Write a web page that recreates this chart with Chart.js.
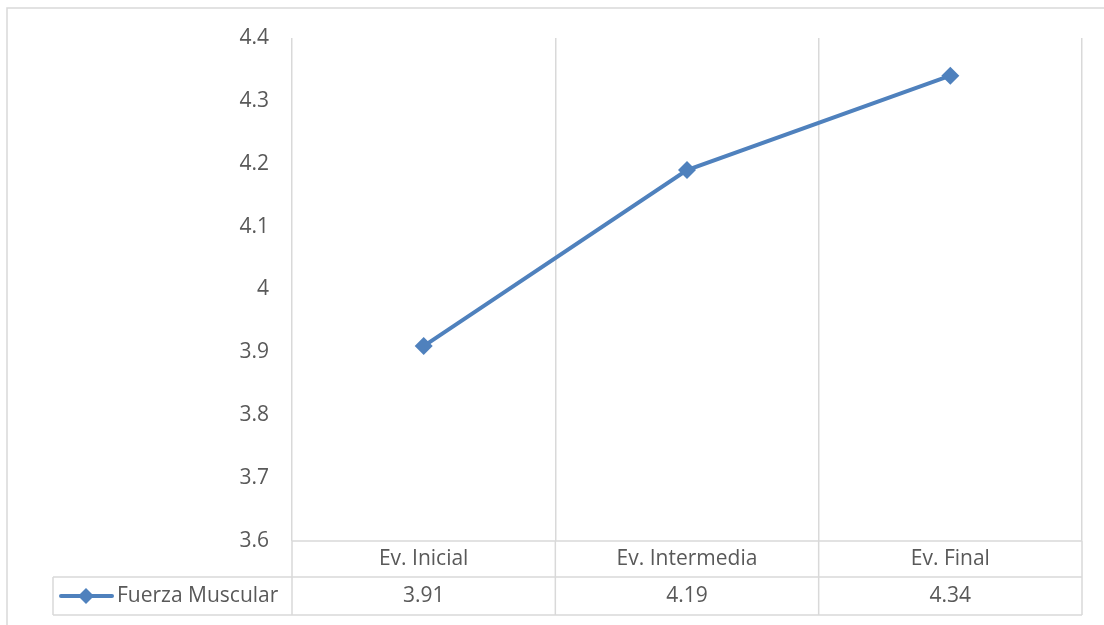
<!DOCTYPE html>
<html>
<head>
<meta charset="utf-8">
<script src="https://cdn.jsdelivr.net/npm/chart.js@4.4.1/dist/chart.umd.min.js"></script>
<style>
  html, body { margin: 0; padding: 0; background: #ffffff; }
  #wrap { width: 1104px; height: 625px; position: relative; }
</style>
</head>
<body>
<div id="wrap"><canvas id="chart" width="1104" height="625"></canvas></div>
<script>
// Evaluation stages and the muscular strength score at each one
const categories = ['Ev. Inicial', 'Ev. Intermedia', 'Ev. Final'];
const seriesName = 'Fuerza Muscular';
const fuerzaMuscular = [3.91, 4.19, 4.34];
const yTicks = [3.6, 3.7, 3.8, 3.9, 4.0, 4.1, 4.2, 4.3, 4.4];

const LINE = '#4f81bd';
const GRID = '#d9d9d9';
const TEXT = '#595959';
const FONT = '"Open Sans", "Liberation Sans", sans-serif';
const FONT_SIZE = 21;

// Geometry of the data table drawn under the plot
const TABLE = { left: 53, headerBottom: 577, bottom: 615 };

const dataTablePlugin = {
  id: 'dataTable',
  beforeDraw(chart) {
    const ctx = chart.ctx;
    ctx.save();
    ctx.fillStyle = '#ffffff';
    ctx.fillRect(0, 0, chart.width, chart.height);
    // chart frame (top and left edges)
    ctx.strokeStyle = GRID;
    ctx.lineWidth = 1.5;
    ctx.beginPath();
    ctx.moveTo(7, chart.height);
    ctx.lineTo(7, 8);
    ctx.lineTo(chart.width, 8);
    ctx.stroke();
    ctx.restore();
  },
  afterDraw(chart) {
    const ctx = chart.ctx;
    const area = chart.chartArea;
    const x = chart.scales.x;
    const n = categories.length;
    const half = (x.getPixelForValue(1) - x.getPixelForValue(0)) / 2;
    const bounds = [];
    for (let i = 0; i < n; i++) bounds.push(x.getPixelForValue(i) - half);
    bounds.push(x.getPixelForValue(n - 1) + half);

    ctx.save();
    ctx.strokeStyle = GRID;
    ctx.lineWidth = 1.5;
    ctx.beginPath();
    // horizontal rules
    ctx.moveTo(bounds[0], area.bottom); ctx.lineTo(bounds[n], area.bottom);
    ctx.moveTo(TABLE.left, TABLE.headerBottom); ctx.lineTo(bounds[n], TABLE.headerBottom);
    ctx.moveTo(TABLE.left, TABLE.bottom); ctx.lineTo(bounds[n], TABLE.bottom);
    // vertical rules through the table
    bounds.forEach(b => { ctx.moveTo(b, area.bottom); ctx.lineTo(b, TABLE.bottom); });
    ctx.moveTo(TABLE.left, TABLE.headerBottom); ctx.lineTo(TABLE.left, TABLE.bottom);
    ctx.stroke();

    // category headers and values
    ctx.fillStyle = TEXT;
    ctx.font = FONT_SIZE + 'px ' + FONT;
    ctx.textAlign = 'center';
    ctx.textBaseline = 'middle';
    const headerY = (area.bottom + TABLE.headerBottom) / 2;
    const valueY = (TABLE.headerBottom + TABLE.bottom) / 2;
    categories.forEach((c, i) => {
      const cx = x.getPixelForValue(i);
      ctx.fillText(c, cx, headerY);
      ctx.fillText(String(fuerzaMuscular[i]), cx, valueY);
    });

    // legend key in the first column
    ctx.strokeStyle = LINE;
    ctx.lineWidth = 4;
    ctx.lineCap = 'round';
    ctx.beginPath();
    ctx.moveTo(61, valueY); ctx.lineTo(112, valueY);
    ctx.stroke();
    ctx.fillStyle = LINE;
    ctx.beginPath();
    const d = 8;
    ctx.moveTo(86, valueY - d); ctx.lineTo(86 + d, valueY);
    ctx.lineTo(86, valueY + d); ctx.lineTo(86 - d, valueY);
    ctx.closePath(); ctx.fill();
    ctx.fillStyle = TEXT;
    ctx.textAlign = 'left';
    ctx.fillText(seriesName, 117, valueY);
    ctx.restore();
  }
};

new Chart(document.getElementById('chart'), {
  type: 'line',
  data: {
    labels: categories,
    datasets: [{
      label: seriesName,
      data: fuerzaMuscular,
      borderColor: LINE,
      backgroundColor: LINE,
      borderWidth: 4,
      pointStyle: 'rectRot',
      pointRadius: 9,
      pointHoverRadius: 9,
      pointBorderWidth: 0,
      tension: 0
    }]
  },
  options: {
    responsive: false,
    animation: false,
    events: [],
    layout: { padding: { top: 38, right: 22, bottom: 84, left: 0 } },
    plugins: { legend: { display: false }, tooltip: { enabled: false } },
    scales: {
      x: {
        offset: true,
        grid: { offset: true, color: GRID, lineWidth: 1.5, drawTicks: false },
        border: { display: false },
        ticks: { display: false },
        afterFit(scale) { scale.height = 0; }
      },
      y: {
        min: yTicks[0],
        max: yTicks[yTicks.length - 1],
        afterBuildTicks(scale) { scale.ticks = yTicks.map(v => ({ value: v })); },
        grid: { display: false },
        border: { display: false },
        ticks: {
          color: TEXT,
          font: { family: FONT, size: FONT_SIZE },
          padding: 15,
          callback: v => String(Number(v.toFixed(1)))
        },
        afterFit(scale) { scale.width = 292; }
      }
    }
  },
  plugins: [dataTablePlugin]
});
</script>
</body>
</html>
